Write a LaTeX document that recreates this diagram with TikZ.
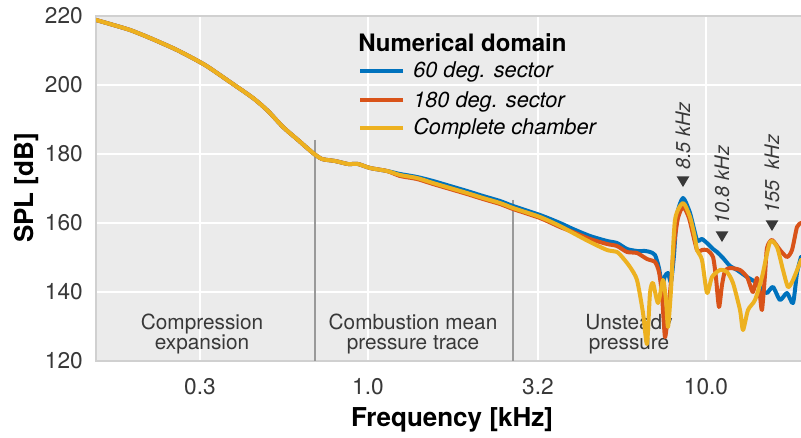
\documentclass[tikz,border=0pt]{standalone}
\usepackage{fontspec}
\setmainfont{TeX Gyre Heros}
\usetikzlibrary{shapes.geometric}

\definecolor{sector60}{HTML}{0072BD}
\definecolor{sector180}{HTML}{D95319}
\definecolor{chamber}{HTML}{EDB120}
\definecolor{panel}{HTML}{EBEBEB}
\definecolor{frame}{HTML}{D0D0D0}
\definecolor{ink}{HTML}{383838}

\tikzset{
  gridline/.style={white, line width=2.2pt},
  divider/.style={gray!80, line width=1.3pt},
  tick/.style={text=ink, inner sep=0pt, font=\fontsize{17}{20}\selectfont},
  axistitle/.style={inner sep=0pt, font=\fontsize{19.5}{22}\selectfont\bfseries},
  region/.style={text=ink, inner sep=0pt, align=center, font=\fontsize{15.6}{15}\selectfont},
  pointer/.style={isosceles triangle, isosceles triangle stretches, shape border rotate=270,
    minimum width=9.5pt, minimum height=8pt, inner sep=0pt, fill=ink},
  peaklabel/.style={text=ink, inner sep=0pt, rotate=90, anchor=west, font=\fontsize{15}{18}\selectfont\itshape},
  legentry/.style={inner sep=0pt, anchor=base west, font=\fontsize{16.3}{19}\selectfont\itshape},
  spl/.style={line width=3pt, line join=round, line cap=round},
}

\begin{document}
\begin{tikzpicture}[x=0.75pt, y=-0.75pt]
\useasboundingbox (0,0) rectangle (801,438);

\fill[panel] (96,16) rectangle (801,361);
\foreach \y in {85,154,223,292} \draw[gridline] (96,\y) -- (801,\y);
\foreach \x in {200,368,538,706} \draw[gridline] (\x,16) -- (\x,361);
\draw[frame, line width=1.5pt] (801,16) -- (96,16) -- (96,361) -- (801,361);

\foreach \v/\y in {220/16,200/85,180/154,160/223,140/292,120/361}
  \node[tick, anchor=east] (y\v) at (83,\y) {\v};
\foreach \f/\x [count=\i] in {0.3/200,1.0/368,3.2/538,10.0/706}
  \node[tick] (x\i) at (\x,387) {\f};
\node[axistitle, anchor=base] (xtitle) at (452,427) {Frequency [kHz]};
\node[axistitle, anchor=base, rotate=90] (ytitle) at (33,188) {SPL [dB]};

\draw[divider] (315,140) -- (315,361);
\draw[divider] (513,200) -- (513,361);
\node[region] (compr) at (202,334) {Compression\\expansion};
\node[region] (comb) at (413,334) {Combustion mean\\pressure trace};
\node[region] (unst) at (629,334) {Unsteady\\pressure};

\begin{scope}
\clip (96,16) rectangle (801,361);
\draw[spl, sector60] plot[smooth, tension=0.4] coordinates {(96,20) (110,24) (130,30) (150,38) (177,50) (205,65) (230,82) (253,98) (268,111) (283,127) (298,140) (313,153) (322,159) (335,161) (348,164) (358,164) (370,168) (387,171) (400,174) (417,177) (433,181) (450,186) (467,191) (483,196) (500,201) (513,206) (540,215) (560,223) (573,229) (590,236) (607,241) (617,243) (627,249) (637,251) (645,251) (650,252) (655,255) (659,268) (662,285) (665,276) (668,273) (671,282) (674,255) (677,215) (683,198) (690,213) (697,240) (702,239) (708,244) (713,249) (717,252) (723,258) (730,266) (737,270) (747,277) (757,283) (762,290) (767,293) (773,287) (780,300) (787,293) (793,303) (797,273) (801,257)};
\draw[spl, sector180] plot[smooth, tension=0.4] coordinates {(96,20) (110,24) (130,30) (150,38) (177,50) (205,65) (230,82) (253,98) (268,111) (283,127) (298,140) (313,153) (322,159) (335,161) (348,164) (358,164) (370,168) (387,171) (400,176) (417,179) (433,184) (450,189) (467,194) (483,199) (500,204) (513,209) (540,218) (560,227) (573,232) (590,239) (607,244) (617,246) (627,252) (637,253) (647,259) (655,262) (659,272) (662,295) (665,337) (668,313) (671,282) (674,245) (678,218) (683,207) (689,218) (697,250) (702,250) (707,250) (713,257) (716,278) (719,307) (722,285) (725,271) (730,268) (740,270) (747,277) (750,285) (753,292) (757,278) (760,296) (762,310) (765,275) (767,248) (772,240) (780,250) (787,257) (792,250) (797,227) (801,223)};
\draw[spl, chamber] plot[smooth, tension=0.4] coordinates {(96,20) (110,24) (130,30) (150,38) (177,50) (205,65) (230,82) (253,98) (268,111) (283,127) (298,140) (313,153) (322,159) (335,161) (348,164) (358,164) (370,168) (387,171) (400,175) (417,178) (433,183) (450,188) (467,193) (483,198) (500,203) (513,208) (540,217) (560,226) (573,233) (590,242) (607,250) (617,252) (623,258) (630,267) (637,280) (643,313) (647,344) (650,293) (653,283) (658,303) (663,280) (666,300) (668,327) (671,290) (675,220) (683,203) (690,217) (695,238) (697,250) (702,260) (707,293) (712,277) (720,270) (727,272) (733,283) (740,310) (743,330) (748,310) (755,300) (762,277) (770,242) (777,247) (783,270) (788,287) (793,280) (801,260)};
\end{scope}

\node[pointer] (t85) at (683,180) {};
\node[pointer] (t108) at (722,235) {};
\node[pointer] (t155) at (772,224) {};
\node[peaklabel] (p85) at ([yshift=4.5pt]t85.north) {8.5 kHz};
\node[peaklabel] (p108) at ([yshift=4.5pt]t108.north) {10.8 kHz};
\node[peaklabel] (p155) at ([yshift=4.5pt]t155.north) {155~ kHz};

\node[inner sep=0pt, anchor=base west, font=\fontsize{18}{21}\selectfont\bfseries] (legtitle) at (358,52) {Numerical domain};
\node[legentry] (l60) at (413,78) {60 deg. sector};
\node[legentry] (l180) at (413,108) {180 deg. sector};
\node[legentry] (lall) at (413,135) {Complete chamber};
\draw[spl, line cap=butt, sector60] ([xshift=-7.5pt, yshift=5.2pt]l60.base west) -- ++(-43,0);
\draw[spl, line cap=butt, sector180] ([xshift=-7.5pt, yshift=5.8pt]l180.base west) -- ++(-43,0);
\draw[spl, line cap=butt, chamber] ([xshift=-7.5pt, yshift=5.2pt]lall.base west) -- ++(-43,0);
\end{tikzpicture}
\end{document}
